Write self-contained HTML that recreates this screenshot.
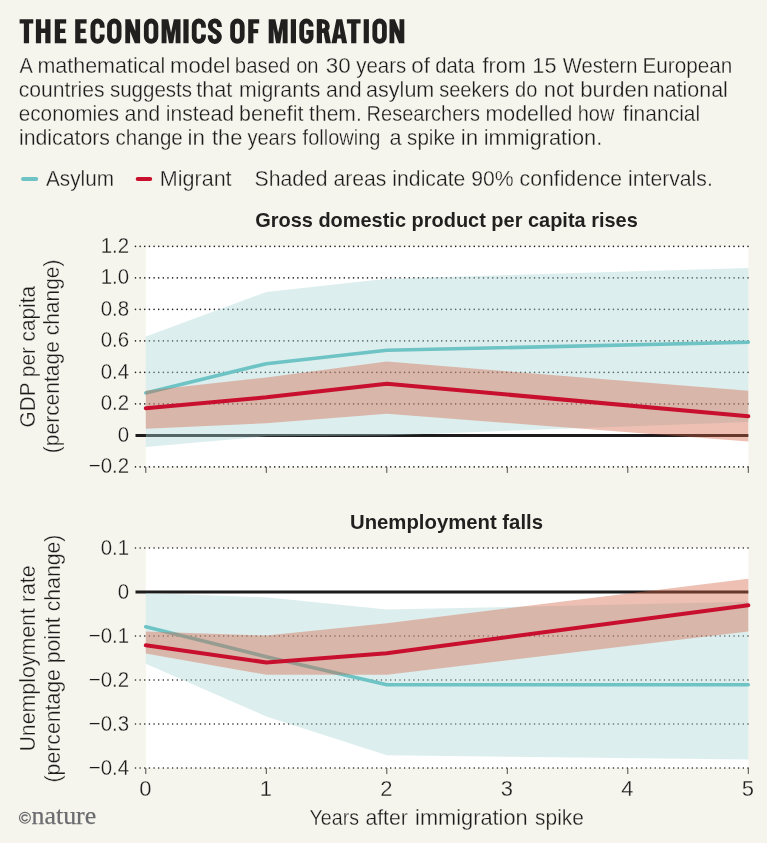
<!DOCTYPE html>
<html><head><meta charset="utf-8"><title>The economics of migration</title>
<style>html,body{margin:0;padding:0;background:#f6f5ed;}svg{display:block;will-change:transform;}text{font-family:"Liberation Sans",sans-serif;fill:#1c1a1a;stroke:#f6f5ed;stroke-width:0.3px;}</style>
</head><body>
<svg width="767" height="843" viewBox="0 0 767 843">
<rect x="0" y="0" width="767" height="843" fill="#f6f5ed"/>
<g fill="#221f1f" stroke="none">
<path transform="translate(19.6,43.2)" d="M0.00,-24.00 h13.70 v4.40 h-13.70 zM4.25,-24.00 h5.20 v24.00 h-5.20 z"/>
<path transform="translate(35.9,43.2)" d="M0.00,-24.00 h5.20 v24.00 h-5.20 zM9.40,-24.00 h5.20 v24.00 h-5.20 zM0.00,-14.60 h14.60 v4.40 h-14.60 z"/>
<path transform="translate(54.8,43.2)" d="M0.00,-24.00 h5.20 v24.00 h-5.20 zM0.00,-24.00 h11.40 v4.40 h-11.40 zM0.00,-14.50 h10.40 v4.40 h-10.40 zM0.00,-4.40 h11.40 v4.40 h-11.40 z"/>
<path transform="translate(75.2,43.2)" d="M0.00,-24.00 h5.20 v24.00 h-5.20 zM0.00,-24.00 h11.40 v4.40 h-11.40 zM0.00,-14.50 h10.40 v4.40 h-10.40 zM0.00,-4.40 h11.40 v4.40 h-11.40 z"/>
<path transform="translate(90.5,43.2)" fill="none" stroke="#221f1f" stroke-width="4.8" d="M11.70,-15.4 V-17.55 A4.65,4.65 0 0 0 2.40,-17.55 V-6.45 A4.65,4.65 0 0 0 11.70,-6.45 V-8.6"/>
<path transform="translate(107.1,43.2)" fill="none" stroke="#221f1f" stroke-width="4.8" d="M2.40,-17.40 V-6.60 A4.80,4.80 0 0 0 12.00,-6.60 V-17.40 A4.80,4.80 0 0 0 2.40,-17.40 z"/>
<path transform="translate(125.3,43.2)" d="M0.00,-24.00 h4.80 v24.00 h-4.80 zM10.00,-24.00 h4.80 v24.00 h-4.80 zM0,-24.00 L5.30,-24.00 L14.80,0 L9.50,0 z"/>
<path transform="translate(143.9,43.2)" fill="none" stroke="#221f1f" stroke-width="4.8" d="M2.40,-17.40 V-6.60 A4.80,4.80 0 0 0 12.00,-6.60 V-17.40 A4.80,4.80 0 0 0 2.40,-17.40 z"/>
<path transform="translate(161.6,43.2)" d="M0.00,0.00 L0.00,-24.00 L6.60,-24.00 L9.45,-10.40 L12.30,-24.00 L18.90,-24.00 L18.90,0.00 L14.00,0.00 L14.00,-14.40 L11.55,0.00 L7.35,0.00 L4.90,-14.40 L4.90,0.00 z"/>
<path transform="translate(183.4,43.2)" d="M0.00,-24.00 h5.20 v24.00 h-5.20 z"/>
<path transform="translate(191.8,43.2)" fill="none" stroke="#221f1f" stroke-width="4.8" d="M11.70,-15.4 V-17.55 A4.65,4.65 0 0 0 2.40,-17.55 V-6.45 A4.65,4.65 0 0 0 11.70,-6.45 V-8.6"/>
<path transform="translate(207.8,43.2)" fill="none" stroke="#221f1f" stroke-width="4.8" d="M11.60,-16.2 V-17.60 A4.60,4.60 0 0 0 2.40,-17.90 C2.40,-11.0 11.60,-13.2 11.60,-6.10 A4.60,4.60 0 0 1 2.40,-6.40 V-8.0"/>
<path transform="translate(230.2,43.2)" fill="none" stroke="#221f1f" stroke-width="4.8" d="M2.40,-17.40 V-6.60 A4.80,4.80 0 0 0 12.00,-6.60 V-17.40 A4.80,4.80 0 0 0 2.40,-17.40 z"/>
<path transform="translate(248.2,43.2)" d="M0.00,-24.00 h5.20 v24.00 h-5.20 zM0.00,-24.00 h11.00 v4.40 h-11.00 zM0.00,-14.30 h10.00 v4.40 h-10.00 z"/>
<path transform="translate(268.7,43.2)" d="M0.00,0.00 L0.00,-24.00 L6.60,-24.00 L9.45,-10.40 L12.30,-24.00 L18.90,-24.00 L18.90,0.00 L14.00,0.00 L14.00,-14.40 L11.55,0.00 L7.35,0.00 L4.90,-14.40 L4.90,0.00 z"/>
<path transform="translate(290.8,43.2)" d="M0.00,-24.00 h5.20 v24.00 h-5.20 z"/>
<path transform="translate(299.3,43.2)" fill="none" stroke="#221f1f" stroke-width="4.8" d="M11.80,-16.6 V-17.50 A4.70,4.70 0 0 0 2.40,-17.50 V-6.50 A4.70,4.70 0 0 0 11.80,-6.50 V-10.8 H7.00"/>
<path transform="translate(316.8,43.2)" d="M0.00,-24.00 h5.20 v24.00 h-5.20 z"/>
<path transform="translate(316.8,43.2)" fill-rule="evenodd" d="M2,-24.00 H6.15 A6.85,6.85 0 0 1 6.15,-10.30 H2 zM5.00,-19.7 H6.0 A2.4,2.5 0 0 1 6.0,-14.7 H5.00 z"/>
<path transform="translate(316.8,43.2)" d="M6.6,-11.4 L11.6,-12.6 L14.10,0 L8.90,0 z"/>
<path transform="translate(331.5,43.2)" fill-rule="evenodd" d="M0,0 L4.90,-24.00 L10.70,-24.00 L15.60,0 L10.50,0 L9.70,-4.7 L5.90,-4.7 L5.10,0 zM6.60,-8.6 L9.00,-8.6 L7.80,-18.2 z"/>
<path transform="translate(346.9,43.2)" d="M0.00,-24.00 h13.70 v4.40 h-13.70 zM4.25,-24.00 h5.20 v24.00 h-5.20 z"/>
<path transform="translate(363.7,43.2)" d="M0.00,-24.00 h5.20 v24.00 h-5.20 z"/>
<path transform="translate(372.4,43.2)" fill="none" stroke="#221f1f" stroke-width="4.8" d="M2.40,-17.40 V-6.60 A4.80,4.80 0 0 0 12.00,-6.60 V-17.40 A4.80,4.80 0 0 0 2.40,-17.40 z"/>
<path transform="translate(389.5,43.2)" d="M0.00,-24.00 h4.80 v24.00 h-4.80 zM10.00,-24.00 h4.80 v24.00 h-4.80 zM0,-24.00 L5.30,-24.00 L14.80,0 L9.50,0 z"/>
</g>
<text x="19.9" y="43.2" font-size="34.8" font-weight="bold" textLength="384.2" lengthAdjust="spacingAndGlyphs" style="fill:none;stroke:none">THE ECONOMICS OF MIGRATION</text>
<text transform="translate(19.38,73.1) scale(0.9400,1)" font-size="21.3">A</text>
<text transform="translate(37.39,73.1) scale(1.0094,1)" font-size="21.3">mathematical</text>
<text transform="translate(170.04,73.1) scale(1.0401,1)" font-size="21.3">model</text>
<text transform="translate(234.86,73.1) scale(0.9569,1)" font-size="21.3">based</text>
<text transform="translate(296.14,73.1) scale(0.9468,1)" font-size="21.3">on</text>
<text transform="translate(325.83,73.1) scale(1.0500,1)" font-size="21.3">30</text>
<text transform="translate(356.20,73.1) scale(0.9604,1)" font-size="21.3">years</text>
<text transform="translate(411.36,73.1) scale(1.0500,1)" font-size="21.3">of</text>
<text transform="translate(435.14,73.1) scale(0.9555,1)" font-size="21.3">data</text>
<text transform="translate(482.39,73.1) scale(1.0181,1)" font-size="21.3">from</text>
<text transform="translate(532.37,73.1) scale(1.0214,1)" font-size="21.3">15</text>
<text transform="translate(562.80,73.1) scale(0.9475,1)" font-size="21.3">Western</text>
<text transform="translate(642.45,73.1) scale(0.9728,1)" font-size="21.3">European</text>
<text transform="translate(18.71,97.1) scale(0.9932,1)" font-size="21.3">countries</text>
<text transform="translate(109.92,97.1) scale(0.9643,1)" font-size="21.3">suggests</text>
<text transform="translate(196.19,97.1) scale(1.0168,1)" font-size="21.3">that</text>
<text transform="translate(239.00,97.1) scale(0.9984,1)" font-size="21.3">migrants</text>
<text transform="translate(326.10,97.1) scale(1.0032,1)" font-size="21.3">and</text>
<text transform="translate(366.09,97.1) scale(1.0119,1)" font-size="21.3">asylum</text>
<text transform="translate(439.16,97.1) scale(0.9400,1)" font-size="21.3">seekers</text>
<text transform="translate(515.09,97.1) scale(0.9400,1)" font-size="21.3">do</text>
<text transform="translate(543.87,97.1) scale(1.0216,1)" font-size="21.3">not</text>
<text transform="translate(580.25,97.1) scale(1.0396,1)" font-size="21.3">burden</text>
<text transform="translate(652.79,97.1) scale(1.0058,1)" font-size="21.3">national</text>
<text transform="translate(18.72,121.1) scale(0.9738,1)" font-size="21.3">economies</text>
<text transform="translate(124.49,121.1) scale(1.0062,1)" font-size="21.3">and</text>
<text transform="translate(165.81,121.1) scale(0.9934,1)" font-size="21.3">instead</text>
<text transform="translate(239.09,121.1) scale(1.0058,1)" font-size="21.3">benefit</text>
<text transform="translate(309.10,121.1) scale(0.9892,1)" font-size="21.3">them.</text>
<text transform="translate(366.60,121.1) scale(0.9400,1)" font-size="21.3">Researchers</text>
<text transform="translate(485.49,121.1) scale(1.0049,1)" font-size="21.3">modelled</text>
<text transform="translate(577.72,121.1) scale(0.9400,1)" font-size="21.3">how</text>
<text transform="translate(623.10,121.1) scale(0.9867,1)" font-size="21.3">financial</text>
<text transform="translate(18.90,145.1) scale(0.9999,1)" font-size="21.3">indicators</text>
<text transform="translate(115.53,145.1) scale(0.9628,1)" font-size="21.3">change</text>
<text transform="translate(187.47,145.1) scale(1.0500,1)" font-size="21.3">in</text>
<text transform="translate(211.99,145.1) scale(1.0295,1)" font-size="21.3">the</text>
<text transform="translate(247.40,145.1) scale(0.9428,1)" font-size="21.3">years</text>
<text transform="translate(302.59,145.1) scale(0.9400,1)" font-size="21.3">following</text>
<text transform="translate(389.48,145.1) scale(1.0182,1)" font-size="21.3">a</text>
<text transform="translate(407.12,145.1) scale(0.9673,1)" font-size="21.3">spike</text>
<text transform="translate(460.87,145.1) scale(1.0500,1)" font-size="21.3">in</text>
<text transform="translate(483.77,145.1) scale(1.0224,1)" font-size="21.3">immigration.</text>
<line x1="23.0" y1="179.0" x2="36.2" y2="179.0" stroke="#6ec3c5" stroke-width="4" stroke-linecap="round"/>
<text x="46.0" y="186.2" font-size="21.3" textLength="68.0" lengthAdjust="spacingAndGlyphs" >Asylum</text>
<line x1="137.7" y1="178.9" x2="150.2" y2="178.9" stroke="#c8102e" stroke-width="4" stroke-linecap="round"/>
<text x="159.8" y="186.2" font-size="21.3" textLength="71.8" lengthAdjust="spacingAndGlyphs" >Migrant</text>
<text x="254.5" y="186.2" font-size="21.3" textLength="458.3" lengthAdjust="spacingAndGlyphs" >Shaded areas indicate 90% confidence intervals.</text>
<text x="255.2" y="227.0" font-size="20.2" font-weight="bold" textLength="382.6" lengthAdjust="spacingAndGlyphs" style="fill:#221f1f;stroke:none">Gross domestic product per capita rises</text>
<text x="350.0" y="528.6" font-size="20.2" font-weight="bold" textLength="193.0" lengthAdjust="spacingAndGlyphs" style="fill:#221f1f;stroke:none">Unemployment falls</text>
<rect x="145.8" y="246.4" width="602.5" height="220.5" fill="#ffffff"/>
<line x1="135.5" y1="246.4" x2="748.6" y2="246.4" stroke="#222222" stroke-width="1.6" stroke-linecap="round" stroke-dasharray="0 4.64"/>
<line x1="135.5" y1="277.9" x2="748.6" y2="277.9" stroke="#222222" stroke-width="1.6" stroke-linecap="round" stroke-dasharray="0 4.64"/>
<line x1="135.5" y1="309.4" x2="748.6" y2="309.4" stroke="#222222" stroke-width="1.6" stroke-linecap="round" stroke-dasharray="0 4.64"/>
<line x1="135.5" y1="340.9" x2="748.6" y2="340.9" stroke="#222222" stroke-width="1.6" stroke-linecap="round" stroke-dasharray="0 4.64"/>
<line x1="135.5" y1="372.4" x2="748.6" y2="372.4" stroke="#222222" stroke-width="1.6" stroke-linecap="round" stroke-dasharray="0 4.64"/>
<line x1="135.5" y1="403.9" x2="748.6" y2="403.9" stroke="#222222" stroke-width="1.6" stroke-linecap="round" stroke-dasharray="0 4.64"/>
<line x1="135.5" y1="466.9" x2="748.6" y2="466.9" stroke="#222222" stroke-width="1.6" stroke-linecap="round" stroke-dasharray="0 4.64"/>
<line x1="135.5" y1="435.4" x2="748.3" y2="435.4" stroke="#1d1b1b" stroke-width="3"/>
<line x1="145.8" y1="466.9" x2="145.8" y2="472.9" stroke="#4a4a4a" stroke-width="1"/>
<line x1="266.3" y1="466.9" x2="266.3" y2="472.9" stroke="#4a4a4a" stroke-width="1"/>
<line x1="386.8" y1="466.9" x2="386.8" y2="472.9" stroke="#4a4a4a" stroke-width="1"/>
<line x1="507.3" y1="466.9" x2="507.3" y2="472.9" stroke="#4a4a4a" stroke-width="1"/>
<line x1="627.8" y1="466.9" x2="627.8" y2="472.9" stroke="#4a4a4a" stroke-width="1"/>
<line x1="748.3" y1="466.9" x2="748.3" y2="472.9" stroke="#4a4a4a" stroke-width="1"/>
<polygon points="145.8,336.6 266.3,291.9 386.8,278.7 748.3,268.0 748.3,421.9 386.8,435.4 266.3,436.2 145.8,447.1" fill="rgb(170,212,212)" fill-opacity="0.4"/>
<polyline points="145.8,392.9 266.3,363.7 386.8,350.3 748.3,342.3" fill="none" stroke="#6ec3c5" stroke-width="3.6" stroke-linecap="round" stroke-linejoin="round"/>
<polygon points="145.8,390.7 266.3,377.4 386.8,361.6 748.3,390.8 748.3,441.5 386.8,413.8 266.3,423.3 145.8,428.7" fill="rgb(212,97,67)" fill-opacity="0.4"/>
<polyline points="145.8,408.2 266.3,397.3 386.8,383.7 748.3,416.3" fill="none" stroke="#c8102e" stroke-width="4" stroke-linecap="round" stroke-linejoin="round"/>
<text transform="translate(129.1,252.7) scale(0.93,1)" x="0" y="0" font-size="22" text-anchor="end">1.2</text>
<text transform="translate(129.1,284.2) scale(0.93,1)" x="0" y="0" font-size="22" text-anchor="end">1.0</text>
<text transform="translate(129.1,315.7) scale(0.93,1)" x="0" y="0" font-size="22" text-anchor="end">0.8</text>
<text transform="translate(129.1,347.2) scale(0.93,1)" x="0" y="0" font-size="22" text-anchor="end">0.6</text>
<text transform="translate(129.1,378.7) scale(0.93,1)" x="0" y="0" font-size="22" text-anchor="end">0.4</text>
<text transform="translate(129.1,410.2) scale(0.93,1)" x="0" y="0" font-size="22" text-anchor="end">0.2</text>
<text transform="translate(129.1,441.7) scale(0.93,1)" x="0" y="0" font-size="22" text-anchor="end">0</text>
<text transform="translate(129.1,473.2) scale(0.93,1)" x="0" y="0" font-size="22" text-anchor="end">−0.2</text>
<rect x="145.8" y="548.0" width="602.5" height="220.0" fill="#ffffff"/>
<line x1="135.5" y1="548.0" x2="748.6" y2="548.0" stroke="#222222" stroke-width="1.6" stroke-linecap="round" stroke-dasharray="0 4.64"/>
<line x1="135.5" y1="636.0" x2="748.6" y2="636.0" stroke="#222222" stroke-width="1.6" stroke-linecap="round" stroke-dasharray="0 4.64"/>
<line x1="135.5" y1="680.0" x2="748.6" y2="680.0" stroke="#222222" stroke-width="1.6" stroke-linecap="round" stroke-dasharray="0 4.64"/>
<line x1="135.5" y1="724.0" x2="748.6" y2="724.0" stroke="#222222" stroke-width="1.6" stroke-linecap="round" stroke-dasharray="0 4.64"/>
<line x1="135.5" y1="768.0" x2="748.6" y2="768.0" stroke="#222222" stroke-width="1.6" stroke-linecap="round" stroke-dasharray="0 4.64"/>
<line x1="135.5" y1="592.0" x2="748.3" y2="592.0" stroke="#1d1b1b" stroke-width="3"/>
<line x1="145.8" y1="768.0" x2="145.8" y2="774.0" stroke="#4a4a4a" stroke-width="1"/>
<line x1="266.3" y1="768.0" x2="266.3" y2="774.0" stroke="#4a4a4a" stroke-width="1"/>
<line x1="386.8" y1="768.0" x2="386.8" y2="774.0" stroke="#4a4a4a" stroke-width="1"/>
<line x1="507.3" y1="768.0" x2="507.3" y2="774.0" stroke="#4a4a4a" stroke-width="1"/>
<line x1="627.8" y1="768.0" x2="627.8" y2="774.0" stroke="#4a4a4a" stroke-width="1"/>
<line x1="748.3" y1="768.0" x2="748.3" y2="774.0" stroke="#4a4a4a" stroke-width="1"/>
<polygon points="145.8,592.9 266.3,597.3 386.8,609.6 748.3,601.7 748.3,759.6 386.8,755.2 266.3,716.5 145.8,663.7" fill="rgb(170,212,212)" fill-opacity="0.4"/>
<polyline points="145.8,626.8 266.3,656.7 386.8,684.8 748.3,684.8" fill="none" stroke="#6ec3c5" stroke-width="3.6" stroke-linecap="round" stroke-linejoin="round"/>
<polygon points="145.8,631.6 266.3,635.6 386.8,623.2 748.3,578.8 748.3,631.6 386.8,674.7 266.3,674.7 145.8,653.6" fill="rgb(212,97,67)" fill-opacity="0.4"/>
<polyline points="145.8,645.2 266.3,662.4 386.8,653.2 748.3,605.2" fill="none" stroke="#c8102e" stroke-width="4" stroke-linecap="round" stroke-linejoin="round"/>
<text transform="translate(129.1,554.9) scale(0.93,1)" x="0" y="0" font-size="22" text-anchor="end">0.1</text>
<text transform="translate(129.1,598.9) scale(0.93,1)" x="0" y="0" font-size="22" text-anchor="end">0</text>
<text transform="translate(129.1,642.9) scale(0.93,1)" x="0" y="0" font-size="22" text-anchor="end">−0.1</text>
<text transform="translate(129.1,686.9) scale(0.93,1)" x="0" y="0" font-size="22" text-anchor="end">−0.2</text>
<text transform="translate(129.1,730.9) scale(0.93,1)" x="0" y="0" font-size="22" text-anchor="end">−0.3</text>
<text transform="translate(129.1,774.9) scale(0.93,1)" x="0" y="0" font-size="22" text-anchor="end">−0.4</text>
<text x="145.3" y="795.5" font-size="22" text-anchor="middle" >0</text>
<text x="265.8" y="795.5" font-size="22" text-anchor="middle" >1</text>
<text x="386.3" y="795.5" font-size="22" text-anchor="middle" >2</text>
<text x="506.8" y="795.5" font-size="22" text-anchor="middle" >3</text>
<text x="627.3" y="795.5" font-size="22" text-anchor="middle" >4</text>
<text x="747.8" y="795.5" font-size="22" text-anchor="middle" >5</text>
<text x="309.5" y="824.6" font-size="21.3" textLength="49.5" lengthAdjust="spacingAndGlyphs" >Years</text>
<text x="365.4" y="824.6" font-size="21.3" textLength="42.5" lengthAdjust="spacingAndGlyphs" >after</text>
<text x="415.1" y="824.6" font-size="21.3" textLength="112.6" lengthAdjust="spacingAndGlyphs" >immigration</text>
<text x="535.1" y="824.6" font-size="21.3" textLength="48.8" lengthAdjust="spacingAndGlyphs" >spike</text>
<text transform="translate(34.7,356.7) rotate(-90)" x="-70.8" y="0" font-size="21.3" textLength="141.5" lengthAdjust="spacingAndGlyphs">GDP per capita</text>
<text transform="translate(59.3,356.4) rotate(-90)" x="-96.8" y="0" font-size="21.3" textLength="193.7" lengthAdjust="spacingAndGlyphs">(percentage change)</text>
<text transform="translate(34.9,658.5) rotate(-90)" x="-93.1" y="0" font-size="21.3" textLength="186.2" lengthAdjust="spacingAndGlyphs">Unemployment rate</text>
<text transform="translate(59.5,658.5) rotate(-90)" x="-124.0" y="0" font-size="21.3" textLength="247.9" lengthAdjust="spacingAndGlyphs">(percentage point change)</text>
<circle cx="24.9" cy="817.8" r="5.45" fill="none" stroke="#6b6c6f" stroke-width="1.15"/>
<path d="M27.4,816.4 A2.9,2.9 0 1 0 27.4,819.2" fill="none" stroke="#6b6c6f" stroke-width="1.5"/>
<text x="31.6" y="823.7" font-size="26" textLength="64.6" lengthAdjust="spacingAndGlyphs" style="font-family:'Liberation Serif',serif;fill:#6b6c6f;stroke:#6b6c6f;stroke-width:0.25px">nature</text>
</svg>
</body></html>
